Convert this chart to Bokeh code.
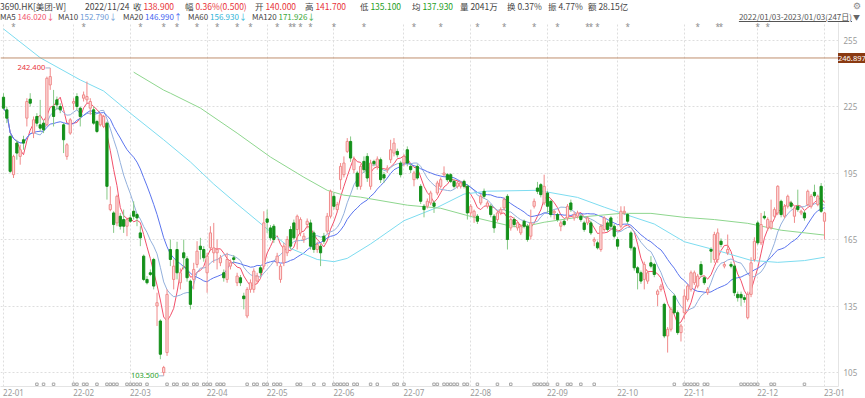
import numpy as np
import pandas as pd
from bokeh.plotting import figure
from bokeh.models import Range1d, FixedTicker, Span, Div, ColumnDataSource
from bokeh.layouts import column
from bokeh.embed import file_html
from bokeh.resources import INLINE
from bokeh.core.properties import value

# ---------------- data (3690.HK daily, 2022/01/03 - 2023/01/03, 247 days) ----------------
open_ = [229.2, 223.5, 211.5, 194.25, 208.5, 202.5, 210, 219.75, 228.3, 213,
         220.5, 216.75, 217.5, 216.75, 234.75, 225, 228, 225, 216.75, 202.5,
         213, 226.5, 229.5, 224.25, 228.75, 228, 224.25, 223.5, 218.25, 216.75,
         216, 217.5, 178.5, 177, 172.5, 175.5, 174, 171, 174.75, 177.75,
         176.25, 168, 157.5, 147, 150, 156, 135, 128.25, 105, 114,
         160.5, 147, 160.5, 145.5, 159, 156.3, 146.25, 147, 153.75, 162,
         160.5, 150, 161.25, 159, 159, 154.5, 150, 147, 153, 156.75,
         145.5, 147.75, 139.5, 130.5, 142.5, 142.5, 146.25, 152.25, 153, 174.3,
         170.25, 171, 154.5, 147, 154.5, 159, 169.5, 172.5, 169.5, 168,
         165, 171.75, 172.5, 168, 160.5, 162, 166.5, 168.75, 175.5, 184.5,
         178.5, 192, 194.25, 204.75, 209.25, 196.5, 195, 189, 200.25, 202.5,
         189, 200.25, 198, 201, 194.25, 196.5, 201, 204, 204.75, 199.5,
         199.5, 205.5, 198, 192, 198, 189, 180, 180, 181.5, 181.5,
         186, 189, 194.25, 194.25, 194.25, 191.25, 189, 189, 191.25, 189,
         177, 175.5, 175.5, 181.5, 186.75, 180, 180, 175.5, 174, 177,
         179.25, 184.5, 170.25, 174, 170.25, 168, 173.25, 171, 166.5, 180,
         188.25, 189.75, 181.5, 186, 182.25, 177, 176.25, 171, 173.25, 174.75,
         181.5, 174.75, 175.5, 175.5, 172.5, 172.5, 172.5, 164.25, 163.5, 160.5,
         169.5, 172.5, 174.75, 171, 165, 171, 177, 176.25, 168, 161.25,
         152.25, 150, 147, 146.25, 154.5, 153.75, 140.25, 142.5, 135.75, 121.5,
         124.5, 139.5, 132, 123, 132, 138, 142.5, 145.5, 144, 153.75,
         147.75, 141, 160.5, 156, 156, 164.25, 153, 159, 153.75, 153,
         140.25, 140.25, 138.75, 129.75, 140.25, 156, 172.5, 163.5, 175.5, 170.25,
         170.25, 175.5, 177, 182.25, 175.5, 180, 181.5, 175.5, 180, 177,
         177, 180.75, 180, 186.3, 180.75, 189, 173.25]
high = [231, 225, 212.25, 203.25, 210, 207.75, 211.8, 228.75, 231, 220.5,
        222, 228, 219, 238.5, 242.4, 232.5, 229.5, 226.5, 217.5, 208.5,
        219.75, 228.75, 231, 225, 231.75, 236.25, 228.75, 225, 219, 222,
        221.25, 218.25, 189, 177.75, 185.25, 177, 178.5, 174.75, 176.25, 182.25,
        177, 171, 158.25, 148.5, 151.5, 156.75, 141, 129, 108, 142.5,
        165, 156, 164, 152, 165, 157.5, 147, 154.5, 164.25, 165.75,
        162, 159, 171, 172.5, 165, 158, 151.5, 159, 156, 158,
        150, 149, 141, 143.5, 147, 152, 150, 153.5, 177.75, 178.5,
        171.5, 172, 159, 154, 163.5, 166.5, 171, 174, 176.25, 175,
        168, 174.5, 174, 169, 164, 163, 168, 177, 187.5, 186,
        182, 199.5, 202.5, 210.75, 211.5, 202.5, 196, 199, 202.5, 204,
        201, 201, 202.5, 202, 195.5, 198.5, 210, 210.75, 206, 200.5,
        203.5, 207, 199, 196, 199, 190, 181, 183.5, 187, 182.5,
        191.5, 193, 198, 195, 195, 192, 191.5, 191.5, 192, 190,
        181, 178.5, 176.5, 185.5, 188, 182.5, 181, 176.5, 178, 179.5,
        184, 185.5, 175, 175, 173.5, 172, 174, 172, 178.5, 183.5,
        191, 190.5, 194.25, 187, 183, 178.5, 177, 173.5, 174, 181,
        183, 177.5, 178, 176.5, 173.5, 175.5, 173.5, 166, 164.5, 172,
        175.5, 173.5, 175.5, 172, 166, 180, 180, 177, 169, 162,
        153, 151, 155, 151, 157.5, 154.5, 142.5, 145, 136.5, 125.5,
        134.5, 140.5, 133, 127, 142.5, 145, 151, 151, 149.5, 155.25,
        148.5, 143.5, 161.5, 168.5, 170, 165.5, 155, 167.25, 155, 154,
        141.5, 141.5, 140, 141.5, 157, 166, 173.5, 177, 177.75, 175,
        183, 179.5, 189.5, 183, 181, 185.25, 182.5, 180, 187.5, 178.5,
        178, 187.5, 185.5, 189.75, 185.25, 190.5, 177.5]
low = [223.5, 217.5, 195, 192.75, 201, 198.75, 205.5, 216, 225, 210.75,
       216, 213.75, 213, 216, 232.5, 216, 223.5, 222, 204, 201,
       212.25, 223.5, 223.5, 216, 227.25, 226.5, 221.25, 216.75, 213, 216,
       215.25, 183, 177.75, 168, 171, 169.5, 168, 166.5, 172.5, 174,
       171, 162, 146.25, 144.75, 148.5, 142.5, 126, 111, 103.5, 112.5,
       153, 142.5, 147, 142.5, 151.5, 146, 133.5, 142.5, 152.25, 156,
       155, 141, 159.75, 154.5, 151.5, 153, 146, 145.5, 151.5, 154.5,
       144, 144, 133.5, 129.5, 141, 141, 145, 148.5, 151.5, 168,
       164.5, 163.5, 153, 145.5, 153, 157.5, 160.5, 165, 160.5, 166.5,
       163.5, 170, 160.5, 159, 159, 153, 163, 167.5, 174.5, 178.5,
       177.5, 187.5, 193, 204, 200, 195, 187.5, 187.5, 195, 191,
       187.5, 198, 196.5, 190.5, 190.5, 195, 199.5, 202.5, 202, 193,
       198, 198, 195, 189, 192, 181, 175, 179, 180.5, 177,
       185, 188, 193.5, 191, 190.5, 188, 188, 188, 188, 174,
       175.5, 172.5, 172, 180.5, 183.5, 179, 175, 168, 173, 176,
       178, 160.5, 169, 170.5, 169, 167, 170, 164, 165, 179,
       185.5, 184, 180.5, 177, 175, 174, 173, 168.75, 171, 173.5,
       177.5, 173.5, 174.5, 173, 168.5, 171.5, 167, 162, 160.5, 159.5,
       168.5, 168.5, 170, 165.5, 160.5, 170, 176, 172, 160, 151,
       142.5, 145, 142.5, 145, 152, 148, 135, 141.5, 120.5, 114,
       123.5, 131, 122, 119, 129, 137, 141.5, 144.5, 143, 148,
       144.5, 140, 154.5, 154.5, 154.5, 161.5, 152, 158, 152, 139.5,
       137, 135, 136.5, 129, 139, 155, 162.5, 162.5, 174, 169,
       169.5, 174.5, 176, 175, 174.5, 179, 179, 172.5, 177.5, 176,
       173.5, 180, 179, 184, 180, 177, 165]
close = [224.25, 219.75, 195.75, 202.5, 204, 205.5, 208.5, 227.25, 226.5, 219,
         217.5, 215.25, 214.5, 237.75, 238.5, 220.5, 225.75, 223.5, 210, 207.75,
         219, 227.25, 225, 220.5, 230.25, 229.5, 227.25, 217.5, 213.75, 221.25,
         220.5, 189, 180.75, 171.75, 184.5, 171, 171, 174, 173.25, 175.5,
         174.75, 165.75, 147, 145.5, 149.25, 144, 136.5, 113.25, 107.25, 140.25,
         156, 153, 150, 150, 156.75, 147.75, 135.75, 151.5, 159.75, 160.5,
         156.75, 157.5, 168, 161.25, 160.5, 156.75, 147.75, 156, 154.5, 156,
         148.5, 145.5, 138.3, 142.5, 145.5, 150.75, 148.5, 150, 172.5, 172.8,
         165.75, 165, 157.5, 153, 162, 165, 162, 165.75, 175.5, 174,
         166.5, 173.25, 162, 160.5, 162.75, 159, 164.25, 175.5, 186.75, 180,
         180.75, 198, 199.5, 209.25, 201.75, 201, 189, 198, 196.5, 192.75,
         199.5, 199.2, 201.3, 192, 192.75, 197.25, 205.5, 208.5, 203.25, 194.25,
         202.5, 199.5, 196.5, 195, 192.75, 182.25, 178.5, 182.25, 186, 180,
         190.5, 192, 195, 192, 191.25, 189, 190.5, 190.5, 189, 177,
         180, 177.75, 173.25, 184.5, 184.5, 181.5, 176.25, 170.25, 177, 178.5,
         183, 165, 174, 171.75, 172.5, 171, 171, 165, 172.5, 182.25,
         186.75, 185.25, 189, 180, 176.25, 177.75, 174, 172.5, 171.75, 180,
         178.5, 176.25, 177, 174, 169.5, 174.75, 168, 165, 161.25, 171,
         174.75, 169.5, 171, 166.5, 162, 177.75, 177.75, 173.25, 161.25, 152.25,
         150, 146.25, 153.75, 150, 153, 149.25, 141.75, 144, 121.5, 124.5,
         133.5, 132, 123, 126, 139.5, 144, 150, 150, 148.5, 149.25,
         145.5, 142.5, 159.75, 167.25, 168, 162.75, 153.75, 160.5, 153, 141,
         138.75, 138.75, 138, 140.25, 154.5, 164.25, 163.5, 171.75, 174.75, 174,
         173.25, 178.5, 189, 176.25, 180, 184.5, 180, 179.25, 178.5, 177.75,
         174.75, 186.75, 184.5, 184.8, 184.5, 177.75, 177]

# long moving averages (trading-day index, value)
ma60_idx = [0, 11, 23, 30, 38, 48, 56, 63, 70, 78, 86, 94, 99, 103, 110, 120, 130,
            138, 145, 160, 172, 180, 186, 195, 204, 214, 224, 232, 240, 246]
ma60_val = [260, 247, 237, 232, 222, 210, 200, 190, 181, 171, 161, 156, 155, 156.5, 163,
            173.5, 179.5, 185.5, 186.8, 187.2, 184, 179.6, 176.5, 172, 164, 160, 155.6,
            154.7, 155.5, 157]
ma120_idx = [39, 48, 50, 59, 70, 80, 90, 97, 102, 107, 121, 131, 141, 151, 155, 162,
             172, 185, 194, 204, 213, 223, 233, 246]
ma120_val = [240.5, 232.4, 231, 224.3, 213, 202.2, 193.1, 187.2, 185, 184.1, 180.5,
             179.1, 175, 171.4, 170.5, 172.8, 175, 176.8, 176.8, 175, 174, 172.3, 169.2, 167]

month_idx = [0, 21, 38, 61, 79, 99, 120, 140, 163, 184, 204, 226, 246]
month_lab = ["22-01", "22-02", "22-03", "22-04", "22-05", "22-06", "22-07",
             "22-08", "22-09", "22-10", "22-11", "22-12", "23-01"]
y_ticks = [105, 135, 165, 195, 225, 255]
ref_level = 246.897

star_idx = [3, 24, 41, 48, 52, 58, 64, 70, 74, 82, 86, 87, 89, 92, 99, 108, 123, 131,
            142, 150, 159, 166, 175, 176, 178, 187, 208, 214, 215, 226, 229]
evt_idx = [10, 12, 15, 21, 22, 24, 25, 28, 31, 32, 33, 34, 37, 38, 39, 40, 41, 43, 49,
           51, 52, 54, 55, 57, 58, 60, 61, 62, 64, 65, 66, 73, 75, 76, 78, 79, 81, 82,
           83, 88, 89, 93, 96, 99, 100, 101, 102, 103, 105, 106, 110, 112, 117, 118,
           120, 129, 130, 132, 133, 134, 135, 136, 138, 139, 142, 148, 152, 159, 160,
           161, 162, 163, 166, 169, 170, 173, 177, 201, 204, 205, 206, 207, 208, 210,
           211, 221, 222, 223, 224, 225, 226, 230, 231, 240]

# ---------------- styling ----------------
RED = "#e8333a"
GREEN = "#1e9e1e"
UP_LINE = "#f08a8a"
UP_FILL = "#fde0e0"
DN_BODY = "#14901a"
DN_WICK = "#86c986"
C_MA5, C_MA10, C_MA20, C_MA60, C_MA120 = "#f2506a", "#93b0dc", "#5a74ee", "#7ddcf0", "#8ed68e"
FONT = "Noto Sans"

o = np.array(open_, float); h = np.array(high, float)
l = np.array(low, float); c = np.array(close, float)
n = len(c)
idx = np.arange(n)
up = c >= o

HEAD_H = 22
X0, X1 = -0.9, 250.2
Y0, Y1 = 98.7, 262.9
p = figure(width=865, height=398 - HEAD_H, x_range=Range1d(X0, X1), y_range=Range1d(Y0, Y1),
           output_backend="svg", toolbar_location=None, y_axis_location="right",
           min_border_left=0, min_border_top=0, min_border_bottom=0, min_border_right=27,
           outline_line_color=None, background_fill_color="white",
           border_fill_color="white", border_fill_alpha=0)

# axes & grids
p.yaxis.ticker = FixedTicker(ticks=y_ticks)
p.yaxis.major_tick_line_color = None
p.yaxis.minor_tick_line_color = None
p.yaxis.major_tick_out = 0
p.yaxis.major_tick_in = 0
p.yaxis.axis_line_color = "#e4e4e4"
p.yaxis.major_label_text_font_size = "8px"
p.yaxis.major_label_text_color = "#9a9a9a"
p.yaxis.major_label_text_font = FONT
p.yaxis.major_label_standoff = 5

lab_shift = 3
p.xaxis.ticker = FixedTicker(ticks=[m + lab_shift for m in month_idx])
p.xaxis.major_label_overrides = {m + lab_shift: t for m, t in zip(month_idx, month_lab)}
p.xaxis.major_tick_line_color = None
p.xaxis.minor_tick_line_color = None
p.xaxis.major_tick_out = 0
p.xaxis.major_tick_in = 0
p.xaxis.axis_line_color = "#e4e4e4"
p.xaxis.major_label_text_font_size = "8px"
p.xaxis.major_label_text_color = "#9a9a9a"
p.xaxis.major_label_text_font = FONT
p.xaxis.major_label_standoff = 2

p.xgrid.ticker = FixedTicker(ticks=month_idx)
for g in (p.xgrid, p.ygrid):
    g.grid_line_color = "#dedede"
    g.grid_line_dash = "2 2"
    g.grid_line_width = 1

# reference level line
p.add_layout(Span(location=ref_level, dimension="width", line_color="#bf8f6e", line_width=1))

# moving averages
cs = pd.Series(c)
for win, col in ((5, C_MA5), (10, C_MA10), (20, C_MA20)):
    ma = cs.rolling(win, min_periods=1).mean().values
    p.line(idx, ma, line_color=col, line_width=1)
p.line(ma60_idx, ma60_val, line_color=C_MA60, line_width=1)
p.line(ma120_idx, ma120_val, line_color=C_MA120, line_width=1)

# candles
su = ColumnDataSource(dict(x=idx[up], hi=h[up], lo=l[up], top=c[up], bot=o[up]))
sd = ColumnDataSource(dict(x=idx[~up], hi=h[~up], lo=l[~up], top=o[~up], bot=c[~up]))
p.segment(x0="x", y0="hi", x1="x", y1="lo", source=su, line_color=UP_LINE, line_width=1)
p.segment(x0="x", y0="hi", x1="x", y1="lo", source=sd, line_color=DN_WICK, line_width=1)
p.vbar(x="x", width=0.66, top="top", bottom="bot", source=su,
       fill_color=UP_FILL, line_color=UP_LINE, line_width=1)
p.vbar(x="x", width=0.66, top="top", bottom="bot", source=sd,
       fill_color=DN_BODY, line_color=DN_BODY, line_width=1)

# max / min annotations
imax = int(np.argmax(h)); imin = int(np.argmin(l))
p.segment(x0=[imax - 1.4], y0=[h[imax]], x1=[imax], y1=[h[imax]], line_color="#9fb3cc")
p.text(x=[imax - 1.5], y=[h[imax]], text=[f"{h[imax]:.3f}"], text_align="right",
       text_baseline="middle", text_font_size="7.5px", text_color=RED, text_font=value(FONT))
p.segment(x0=[imin - 1.4], y0=[l[imin]], x1=[imin], y1=[l[imin]], line_color="#9fb3cc")
p.text(x=[imin - 1.5], y=[l[imin]], text=[f"{l[imin]:.3f}"], text_align="right",
       text_baseline="middle", text_font_size="7.5px", text_color=GREEN, text_font=value(FONT))

# event markers
p.text(x=star_idx, y=[261.0] * len(star_idx), text=["*"] * len(star_idx), text_align="center",
       text_baseline="middle", text_font_size="8px", text_color="#8c8c8c", text_font=value(FONT))
p.scatter(x=evt_idx, y=[99.7] * len(evt_idx), marker="square", size=2.5,
          line_color="#a8a8a8", fill_color=None, line_width=1)

# ---------------- header (and price tag overlay on the right axis) ----------------
def grp(left, lab, val, col, top=0, size=8.5):
    return (f'<span style="position:absolute;left:{left}px;top:{top}px;white-space:nowrap;'
            f'font-size:{size}px;line-height:10px;color:#444">{lab}'
            f'<span style="color:{col}">{val}</span></span>')

row1 = [(0, "3690.HK[美团-W]", "", "#444"), (85, "2022/11/24", "", "#444"),
        (133, "收 ", "138.900", RED), (185, "幅 ", "0.36%(0.500)", RED),
        (255, "开 ", "140.000", RED), (305, "高 ", "141.700", RED),
        (360, "低 ", "135.100", GREEN), (412, "均 ", "137.930", GREEN),
        (460, "量 ", "2041万", "#444"), (507, "换 ", "0.37%", "#444"),
        (548, "振 ", "4.77%", "#444"), (588, "额 ", "28.15亿", "#444")]
row2 = [(0, "MA5 ", "146.020↓", C_MA5), (58, "MA10 ", "152.790↓", "#6e9ad6"),
        (123, "MA20 ", "146.990↑", "#3f5ff0"), (188, "MA60 ", "156.930↓", "#2fb3d8"),
        (252, "MA120 ", "171.926↓", "#3aa83a")]

# page position of the price tag, derived from the plot's own y scale
frame_h = 398 - HEAD_H - 12
tag_y = HEAD_H + (Y1 - ref_level) / (Y1 - Y0) * frame_h

html = ('<div style="position:relative;width:865px;height:22px;overflow:visible;'
        "font-family:'Noto Sans CJK SC','Noto Sans',sans-serif;\">")
html += "".join(grp(x, a, b, col, 1, 8.5) for x, a, b, col in row1)
html += "".join(grp(x, a, b, col, 12, 8) for x, a, b, col in row2)
html += ('<span style="position:absolute;right:13px;top:12px;font-size:8px;line-height:10px;'
         'color:#555;text-decoration:underline;white-space:nowrap">2022/01/03-2023/01/03(247日)</span>'
         '<span style="position:absolute;right:5px;top:12px;font-size:7px;line-height:10px;'
         'color:#666">▼</span>'
         '<span style="position:absolute;right:4px;top:1px;font-size:9px;line-height:10px;'
         "color:#888;font-family:'DejaVu Sans'\">⚙</span>")
html += (f'<span style="position:absolute;left:838px;top:{tag_y - 5:.1f}px;width:27px;height:10px;'
         'background:#8a3a12;color:#fff;font-size:7.5px;line-height:10px;text-align:center;'
         f"z-index:50;font-family:'Noto Sans'\">{ref_level:.3f}</span>")
html += "</div>"
div = Div(text=html, width=865, height=HEAD_H, margin=(0, 0, 0, 0),
          styles={"overflow": "visible", "z-index": "50", "position": "relative"})

layout = column(div, p, spacing=0)
open("out.html", "w").write(file_html(layout, INLINE))
